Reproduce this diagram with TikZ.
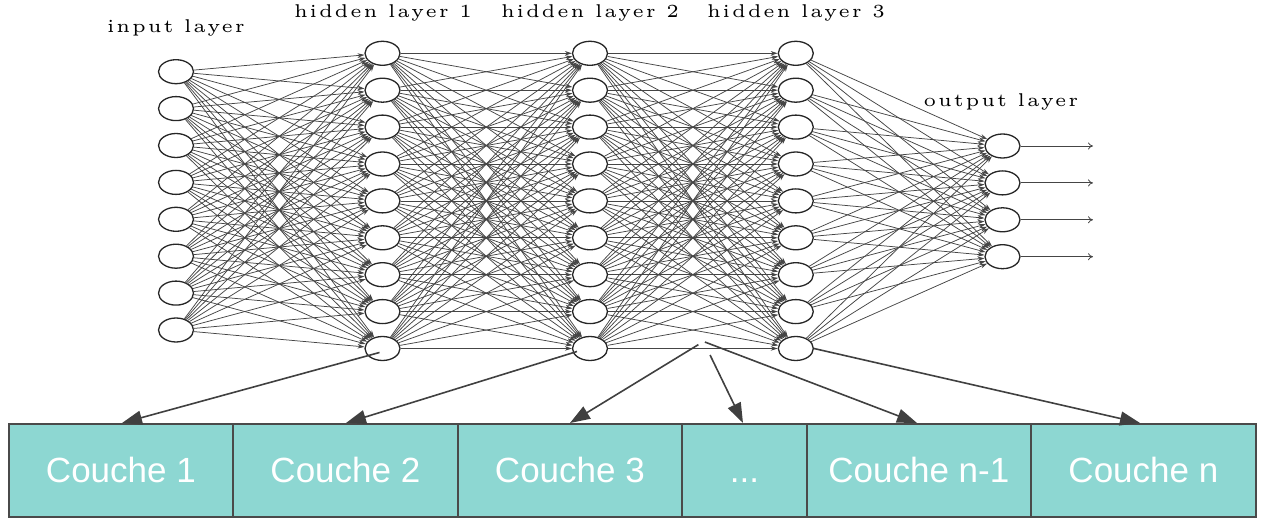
\documentclass[tikz,border=0pt]{standalone}
\usepackage{fontspec}
\usetikzlibrary{shapes.geometric,arrows.meta,calc}
\newfontfamily\sansA{Liberation Sans}
\newfontfamily\lmlab{lmroman5-regular.otf}[LetterSpace=10]
\definecolor{boxfill}{HTML}{8DD7D2}
\definecolor{boxline}{HTML}{4A4A4A}
\definecolor{arr}{HTML}{404040}
\definecolor{edgec}{HTML}{454545}
\begin{document}
\begin{tikzpicture}[x=1pt,y=-1pt,
 neuron/.style={ellipse,draw=black!85,line width=1.3pt,fill=white,minimum width=35pt,minimum height=24pt,inner sep=0pt},
 conn/.style={draw=edgec,line width=0.75pt,-{Stealth[length=7pt,width=4.5pt]}},
 outarrow/.style={draw=edgec,line width=0.8pt,-{To[length=5pt,width=7pt]}},
 lab/.style={font={\lmlab\fontsize{18.5}{20}\selectfont},anchor=base,inner sep=0pt},
 layerbox/.style={draw=boxline,line width=1.8pt,fill=boxfill,text=white,font={\sansA\fontsize{35}{40}\selectfont},inner sep=0pt,anchor=north west,minimum height=93pt,text height=25pt,text depth=0pt},
 bigarrow/.style={draw=arr,line width=1.6pt,-{Triangle[length=20pt,width=14pt]}}
]
\useasboundingbox (0,0) rectangle (1264,518);

% layers
\foreach \i in {1,...,8} \node[neuron] (in-\i) at (176,{71.7+36.9*(\i-1)}) {};
\foreach \i in {1,...,9} {
  \node[neuron] (h1-\i) at (382.5,{53.3+36.9*(\i-1)}) {};
  \node[neuron] (h2-\i) at (590,{53.3+36.9*(\i-1)}) {};
  \node[neuron] (h3-\i) at (795.8,{53.3+36.9*(\i-1)}) {};
}
\foreach \i in {1,...,4} {
  \node[neuron] (out-\i) at (1002.5,{146+36.9*(\i-1)}) {};
  \coordinate (o-\i) at (1093,{146+36.9*(\i-1)});
}

% connections
\foreach \i in {1,...,8} \foreach \j in {1,...,9} \draw[conn] (in-\i) -- (h1-\j);
\foreach \i in {1,...,9} \foreach \j in {1,...,9} {
  \draw[conn] (h1-\i) -- (h2-\j);
  \draw[conn] (h2-\i) -- (h3-\j);
}
\foreach \i in {1,...,9} \foreach \j in {1,...,4} \draw[conn] (h3-\i) -- (out-\j);
\foreach \i in {1,...,4} \draw[outarrow] (out-\i) -- (o-\i);

% labels
\node[lab] (l-in) at (176,32.3) {input layer};
\node[lab] (l-h1) at (383,17.3) {hidden layer 1};
\node[lab] (l-h2) at (590,17.3) {hidden layer 2};
\node[lab] (l-h3) at (796,17.3) {hidden layer 3};
\node[lab] (l-out) at (1001,106.7) {output layer};

% boxes
\node[layerbox,minimum width=224pt] (b1) at (8,423) {Couche 1};
\node[layerbox,minimum width=225pt] (b2) at (232,423) {Couche 2};
\node[layerbox,minimum width=224pt] (b3) at (457,423) {Couche 3};
\node[layerbox,minimum width=125pt] (b4) at (681,423) {{.}{.}{.}};
\node[layerbox,minimum width=224pt] (b5) at (806,423) {Couche n-1};
\node[layerbox,minimum width=225pt] (b6) at (1030,423) {Couche n};

% arrows to boxes
\coordinate (t1) at (122,423);
\coordinate (t2) at (346,423);
\coordinate (t3) at (570,423);
\coordinate (t4) at (743,423);
\coordinate (t5) at (917,423);
\coordinate (t6) at (1140,423);
\coordinate (m) at (703.5,341.5);
\draw[bigarrow] ($(h1-9.center)+(-3,4)$) -- (t1);
\draw[bigarrow] ($(h2-9.center)+(-13,3)$) -- (t2);
\draw[bigarrow,shorten <=6pt] (m) -- (t3);
\draw[bigarrow,shorten <=15pt] (m) -- (t4);
\draw[bigarrow,shorten <=1.5pt] (m) -- (t5);
\draw[bigarrow] (h3-9.east) -- (t6);
\end{tikzpicture}
\end{document}
